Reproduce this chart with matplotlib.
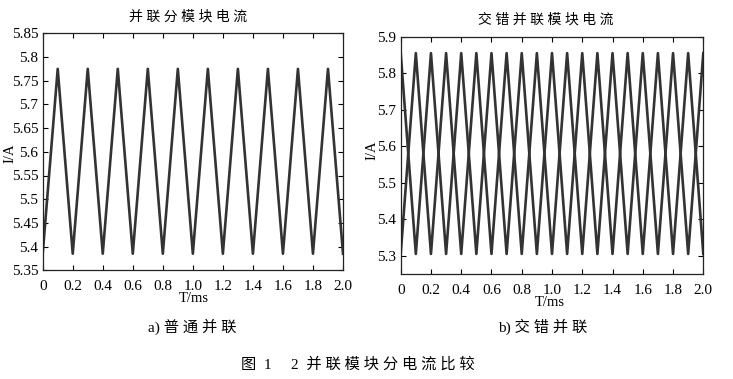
import matplotlib
matplotlib.use("Agg")
import matplotlib.pyplot as plt

# a) 普通并联: 两个模块电流相同, 三角波顶点
t_a = [0.0, 0.1, 0.2, 0.3, 0.4, 0.5, 0.6, 0.7, 0.8, 0.9, 1.0,
       1.1, 1.2, 1.3, 1.4, 1.5, 1.6, 1.7, 1.8, 1.9, 2.0]
i_a = [5.385, 5.775, 5.385, 5.775, 5.385, 5.775, 5.385, 5.775, 5.385, 5.775, 5.385,
       5.775, 5.385, 5.775, 5.385, 5.775, 5.385, 5.775, 5.385, 5.775, 5.385]

# b) 交错并联: 两个模块相位错开
t_b = [0.0, 0.1, 0.2, 0.3, 0.4, 0.5, 0.6, 0.7, 0.8, 0.9, 1.0,
       1.1, 1.2, 1.3, 1.4, 1.5, 1.6, 1.7, 1.8, 1.9, 2.0]
i_b1 = [5.305, 5.855, 5.305, 5.855, 5.305, 5.855, 5.305, 5.855, 5.305, 5.855, 5.305,
        5.855, 5.305, 5.855, 5.305, 5.855, 5.305, 5.855, 5.305, 5.855, 5.305]
i_b2 = [5.855, 5.305, 5.855, 5.305, 5.855, 5.305, 5.855, 5.305, 5.855, 5.305, 5.855,
        5.305, 5.855, 5.305, 5.855, 5.305, 5.855, 5.305, 5.855, 5.305, 5.855]

xticks = [0, 0.2, 0.4, 0.6, 0.8, 1.0, 1.2, 1.4, 1.6, 1.8, 2.0]
xticklabels = ["0", "0.2", "0.4", "0.6", "0.8", "1.0", "1.2", "1.4", "1.6", "1.8", "2.0"]
yticks_a = [5.35, 5.4, 5.45, 5.5, 5.55, 5.6, 5.65, 5.7, 5.75, 5.8, 5.85]
yticks_b = [5.3, 5.4, 5.5, 5.6, 5.7, 5.8, 5.9]

W, H = 733, 379
serif = "Liberation Serif"
mixed = ["Liberation Serif", "Noto Sans CJK SC"]
line_color = "#333333"

plt.rcParams["font.family"] = serif

fig = plt.figure(figsize=(W / 100, H / 100), dpi=100)
fig.patch.set_facecolor("white")


def px(x, y):
    return x / W, 1 - y / H


def spaced(s):
    return " ".join(s)


def style(ax, yticks):
    ax.set_xlim(0, 2.0)
    ax.set_xticks(xticks)
    ax.set_xticklabels(xticklabels)
    ax.set_yticks(yticks)
    ax.set_yticklabels([f"{v:g}" for v in yticks])
    ax.tick_params(direction="in", length=3.5, width=0.8, top=True, right=True,
                   labelsize=11)
    ax.tick_params(axis="x", pad=7)
    ax.tick_params(axis="y", pad=3)
    for s in ax.spines.values():
        s.set_linewidth(0.9)
        s.set_color("#222222")


ax1 = fig.add_axes([42.7 / W, 1 - 270.3 / H, 300.3 / W, 237.0 / H])
ax1.plot(t_a, i_a, color=line_color, lw=1.9)
ax1.set_ylim(5.35, 5.85)
style(ax1, yticks_a)

ax2 = fig.add_axes([400.7 / W, 1 - 274.0 / H, 302.6 / W, 237.3 / H])
ax2.plot(t_b, i_b1, color=line_color, lw=1.9)
ax2.plot(t_b, i_b2, color=line_color, lw=1.9)
ax2.set_ylim(5.25, 5.9)
style(ax2, yticks_b)

# 标题、坐标轴标签
fig.text(*px(188, 17), spaced("并联分模块电流"), family=mixed, fontsize=10,
         ha="center", va="center")
fig.text(*px(546, 20), spaced("交错并联模块电流"), family=mixed, fontsize=10,
         ha="center", va="center")
fig.text(*px(10, 153), "I/A", fontsize=10.5, rotation=90, ha="center", va="center")
fig.text(*px(372, 150), "I/A", fontsize=10.5, rotation=90, ha="center", va="center")
fig.text(*px(194, 299), "T/ms", fontsize=10.5, ha="center", va="center")
fig.text(*px(550, 303), "T/ms", fontsize=10.5, ha="center", va="center")

fig.text(*px(192, 327), "a) " + spaced("普通并联"), family=mixed, fontsize=11,
         ha="center", va="center")
fig.text(*px(543, 327), "b) " + spaced("交错并联"), family=mixed, fontsize=11,
         ha="center", va="center")
fig.text(*px(358, 364), "图  1     2  " + spaced("并联模块分电流比较"), family=mixed,
         fontsize=11, ha="center", va="center")

fig.savefig("out.png", dpi=100)
